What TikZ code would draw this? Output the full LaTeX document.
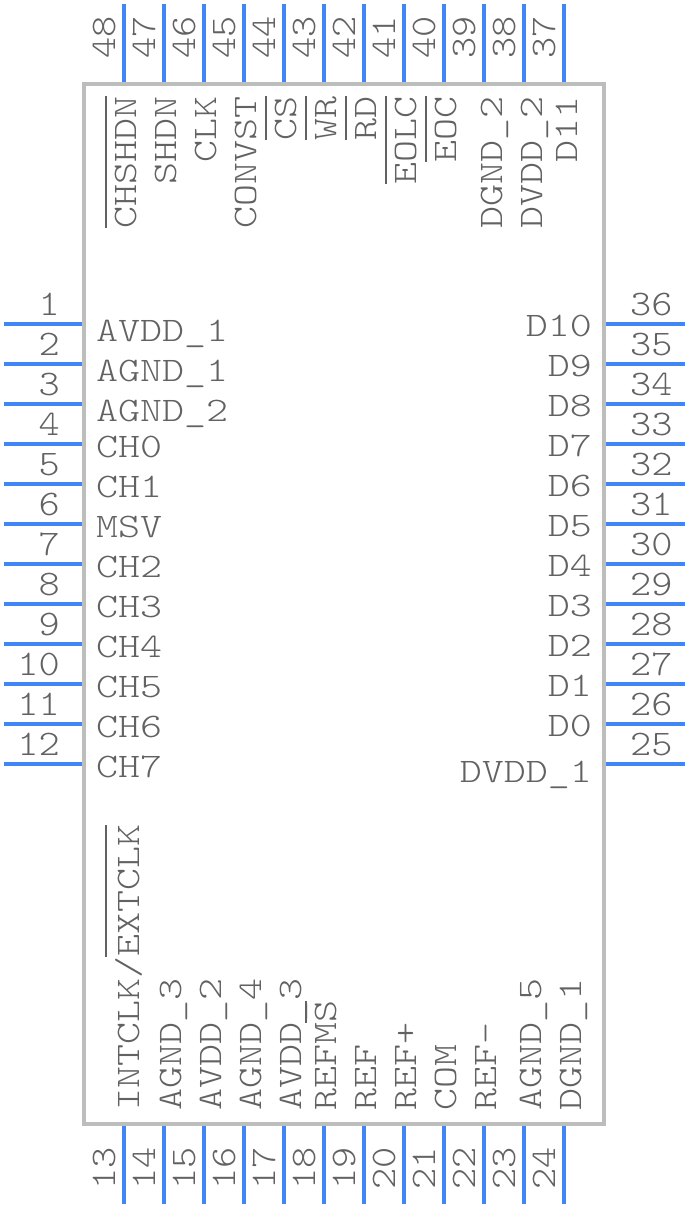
\documentclass[tikz,border=0pt]{standalone}
\usepackage{fontspec}
\newfontfamily\namefont[FakeStretch=1.218]{Latin Modern Mono Light}
\newfontfamily\numfont[FakeStretch=1.12]{Latin Modern Mono Light}
\definecolor{pinblue}{HTML}{4285F4}
\definecolor{bodygrey}{HTML}{BDBDBD}
\definecolor{textgrey}{HTML}{626262}
% bar over a signal name
\newcommand{\sigbar}[2][29pt]{\setbox0=\hbox{#2}\rlap{\rule[#1]{\wd0}{2pt}}\box0}
\tikzset{
  pinwire/.style={draw=pinblue, line width=4pt},
  pinname/.style={text=textgrey, inner sep=0pt, font=\namefont\fontsize{34.4}{36}\selectfont},
  pinnum/.style={text=textgrey, inner sep=0pt, font=\numfont\fontsize{36}{38}\selectfont},
  leftname/.style={pinname, anchor=base west},
  rightname/.style={pinname, anchor=base east},
  topname/.style={pinname, rotate=90, anchor=base east},
  botname/.style={pinname, rotate=90, anchor=base west},
  leftnum/.style={pinnum, anchor=base east},
  rightnum/.style={pinnum, anchor=base west},
  topnum/.style={pinnum, rotate=90, anchor=base east},
  botnum/.style={pinnum, rotate=90, anchor=base west}
}
\begin{document}
\begin{tikzpicture}[x=1pt,y=-1pt]
\useasboundingbox (0,0) rectangle (688,1208);
\node (body) [draw=bodygrey, line width=4pt, minimum width=520pt, minimum height=1040pt, inner sep=0pt] at (344,604) {};
% left side
\draw [pinwire] (4,324) coordinate (p1) -- (body.west |- p1);
\draw [pinwire] (4,364) coordinate (p2) -- (body.west |- p2);
\draw [pinwire] (4,404) coordinate (p3) -- (body.west |- p3);
\draw [pinwire] (4,444) coordinate (p4) -- (body.west |- p4);
\draw [pinwire] (4,484) coordinate (p5) -- (body.west |- p5);
\draw [pinwire] (4,524) coordinate (p6) -- (body.west |- p6);
\draw [pinwire] (4,564) coordinate (p7) -- (body.west |- p7);
\draw [pinwire] (4,604) coordinate (p8) -- (body.west |- p8);
\draw [pinwire] (4,644) coordinate (p9) -- (body.west |- p9);
\draw [pinwire] (4,684) coordinate (p10) -- (body.west |- p10);
\draw [pinwire] (4,724) coordinate (p11) -- (body.west |- p11);
\draw [pinwire] (4,764) coordinate (p12) -- (body.west |- p12);
\node (n1) [leftnum] at (60,315) {1};
\node (n2) [leftnum] at (60,355) {2};
\node (n3) [leftnum] at (60,395) {3};
\node (n4) [leftnum] at (60,435) {4};
\node (n5) [leftnum] at (60,475) {5};
\node (n6) [leftnum] at (60,515) {6};
\node (n7) [leftnum] at (60,555) {7};
\node (n8) [leftnum] at (60,595) {8};
\node (n9) [leftnum] at (60,635) {9};
\node (n10) [leftnum] at (60,675) {10};
\node (n11) [leftnum] at (60,715) {11};
\node (n12) [leftnum] at (60,755) {12};
\node (t1) [leftname] at (96,341) {AVDD\_1};
\node (t2) [leftname] at (96,381) {AGND\_1};
\node (t3) [leftname] at (96,421) {AGND\_2};
\node (t4) [leftname] at (96,457) {CH0};
\node (t5) [leftname] at (96,497) {CH1};
\node (t6) [leftname] at (96,537) {MSV};
\node (t7) [leftname] at (96,577) {CH2};
\node (t8) [leftname] at (96,617) {CH3};
\node (t9) [leftname] at (96,657) {CH4};
\node (t10) [leftname] at (96,697) {CH5};
\node (t11) [leftname] at (96,737) {CH6};
\node (t12) [leftname] at (96,777) {CH7};
% right side
\draw [pinwire] (685,324) coordinate (p36) -- (body.east |- p36);
\draw [pinwire] (685,364) coordinate (p35) -- (body.east |- p35);
\draw [pinwire] (685,404) coordinate (p34) -- (body.east |- p34);
\draw [pinwire] (685,444) coordinate (p33) -- (body.east |- p33);
\draw [pinwire] (685,484) coordinate (p32) -- (body.east |- p32);
\draw [pinwire] (685,524) coordinate (p31) -- (body.east |- p31);
\draw [pinwire] (685,564) coordinate (p30) -- (body.east |- p30);
\draw [pinwire] (685,604) coordinate (p29) -- (body.east |- p29);
\draw [pinwire] (685,644) coordinate (p28) -- (body.east |- p28);
\draw [pinwire] (685,684) coordinate (p27) -- (body.east |- p27);
\draw [pinwire] (685,724) coordinate (p26) -- (body.east |- p26);
\draw [pinwire] (685,764) coordinate (p25) -- (body.east |- p25);
\node (n36) [rightnum] at (630,315) {36};
\node (n35) [rightnum] at (630,355) {35};
\node (n34) [rightnum] at (630,395) {34};
\node (n33) [rightnum] at (630,435) {33};
\node (n32) [rightnum] at (630,475) {32};
\node (n31) [rightnum] at (630,515) {31};
\node (n30) [rightnum] at (630,555) {30};
\node (n29) [rightnum] at (630,595) {29};
\node (n28) [rightnum] at (630,635) {28};
\node (n27) [rightnum] at (630,675) {27};
\node (n26) [rightnum] at (630,715) {26};
\node (n25) [rightnum] at (630,755) {25};
\node (t36) [rightname] at (592,336) {D10};
\node (t35) [rightname] at (592,376) {D9};
\node (t34) [rightname] at (592,416) {D8};
\node (t33) [rightname] at (592,456) {D7};
\node (t32) [rightname] at (592,496) {D6};
\node (t31) [rightname] at (592,536) {D5};
\node (t30) [rightname] at (592,576) {D4};
\node (t29) [rightname] at (592,616) {D3};
\node (t28) [rightname] at (592,656) {D2};
\node (t27) [rightname] at (592,696) {D1};
\node (t26) [rightname] at (592,736) {D0};
\node (t25) [rightname] at (592,782) {DVDD\_1};
% top side
\draw [pinwire] (124,4) coordinate (p48) -- (body.north -| p48);
\draw [pinwire] (164,4) coordinate (p47) -- (body.north -| p47);
\draw [pinwire] (204,4) coordinate (p46) -- (body.north -| p46);
\draw [pinwire] (244,4) coordinate (p45) -- (body.north -| p45);
\draw [pinwire] (284,4) coordinate (p44) -- (body.north -| p44);
\draw [pinwire] (324,4) coordinate (p43) -- (body.north -| p43);
\draw [pinwire] (364,4) coordinate (p42) -- (body.north -| p42);
\draw [pinwire] (404,4) coordinate (p41) -- (body.north -| p41);
\draw [pinwire] (444,4) coordinate (p40) -- (body.north -| p40);
\draw [pinwire] (484,4) coordinate (p39) -- (body.north -| p39);
\draw [pinwire] (524,4) coordinate (p38) -- (body.north -| p38);
\draw [pinwire] (564,4) coordinate (p37) -- (body.north -| p37);
\node (n48) [topnum] at (115,16) {48};
\node (n47) [topnum] at (155,16) {47};
\node (n46) [topnum] at (195,16) {46};
\node (n45) [topnum] at (235,16) {45};
\node (n44) [topnum] at (275,16) {44};
\node (n43) [topnum] at (315,16) {43};
\node (n42) [topnum] at (355,16) {42};
\node (n41) [topnum] at (395,16) {41};
\node (n40) [topnum] at (435,16) {40};
\node (n39) [topnum] at (475,16) {39};
\node (n38) [topnum] at (515,16) {38};
\node (n37) [topnum] at (555,16) {37};
\node (t48) [topname] at (136,96) {\sigbar{CHSHDN}};
\node (t47) [topname] at (176,96) {SHDN};
\node (t46) [topname] at (216,96) {CLK};
\node (t45) [topname] at (256,96) {CONVST};
\node (t44) [topname] at (296,96) {\sigbar{CS}};
\node (t43) [topname] at (336,96) {\sigbar{WR}};
\node (t42) [topname] at (376,96) {\sigbar{RD}};
\node (t41) [topname] at (416,96) {\sigbar{EOLC}};
\node (t40) [topname] at (456,96) {\sigbar{EOC}};
\node (t39) [topname] at (502,96) {DGND\_2};
\node (t38) [topname] at (542,96) {DVDD\_2};
\node (t37) [topname] at (577,96) {D11};
% bottom side
\draw [pinwire] (124,1204) coordinate (p13) -- (body.south -| p13);
\draw [pinwire] (164,1204) coordinate (p14) -- (body.south -| p14);
\draw [pinwire] (204,1204) coordinate (p15) -- (body.south -| p15);
\draw [pinwire] (244,1204) coordinate (p16) -- (body.south -| p16);
\draw [pinwire] (284,1204) coordinate (p17) -- (body.south -| p17);
\draw [pinwire] (324,1204) coordinate (p18) -- (body.south -| p18);
\draw [pinwire] (364,1204) coordinate (p19) -- (body.south -| p19);
\draw [pinwire] (404,1204) coordinate (p20) -- (body.south -| p20);
\draw [pinwire] (444,1204) coordinate (p21) -- (body.south -| p21);
\draw [pinwire] (484,1204) coordinate (p22) -- (body.south -| p22);
\draw [pinwire] (524,1204) coordinate (p23) -- (body.south -| p23);
\draw [pinwire] (564,1204) coordinate (p24) -- (body.south -| p24);
\node (n13) [botnum] at (115,1190) {13};
\node (n14) [botnum] at (155,1190) {14};
\node (n15) [botnum] at (195,1190) {15};
\node (n16) [botnum] at (235,1190) {16};
\node (n17) [botnum] at (275,1190) {17};
\node (n18) [botnum] at (315,1190) {18};
\node (n19) [botnum] at (355,1190) {19};
\node (n20) [botnum] at (395,1190) {20};
\node (n21) [botnum] at (435,1190) {21};
\node (n22) [botnum] at (475,1190) {22};
\node (n23) [botnum] at (515,1190) {23};
\node (n24) [botnum] at (555,1190) {24};
\node (t13) [botname] at (139,1111) {INTCLK/\sigbar[32pt]{EXTCLK}};
\node (t14) [botname] at (181,1111) {AGND\_3};
\node (t15) [botname] at (221,1111) {AVDD\_2};
\node (t16) [botname] at (261,1111) {AGND\_4};
\node (t17) [botname] at (301,1111) {AVDD\_3};
\node (t18) [botname] at (336,1111) {REFM\sigbar{S}};
\node (t19) [botname] at (376,1111) {REF};
\node (t20) [botname] at (416,1111) {REF+};
\node (t21) [botname] at (456,1111) {COM};
\node (t22) [botname] at (496,1111) {REF-};
\node (t23) [botname] at (541,1111) {AGND\_5};
\node (t24) [botname] at (581,1111) {DGND\_1};
\end{tikzpicture}
\end{document}
